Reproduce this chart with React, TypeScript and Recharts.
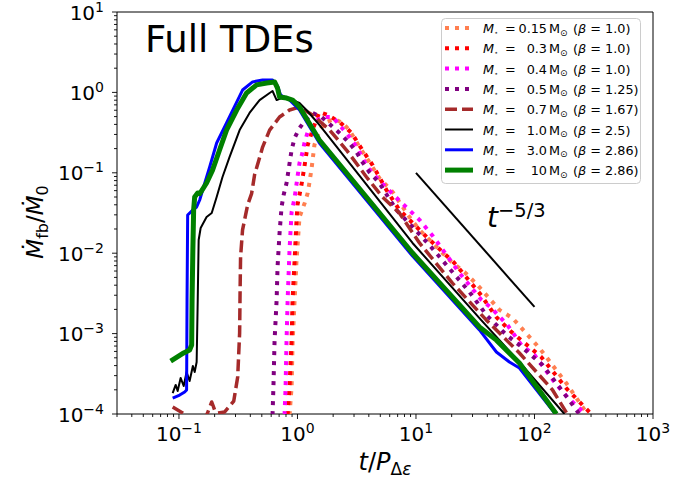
import React from "react";
import { LineChart, Line, XAxis, YAxis, ReferenceArea, Customized } from "recharts";

const FONT = "DejaVu Sans, sans-serif";

// each point: [t / P_de, Mdot_fb / Mdot_0]
const star015 = [
  [0.857, 9.7e-5], [0.892, 2.17e-4], [0.909, 7.6e-4], [0.946, 2.62e-3], [0.982, 8.2e-3], [1.04, 0.0282],
  [1.15, 0.042], [1.22, 0.0561], [1.26, 0.0746], [1.32, 0.118], [1.39, 0.222], [1.53, 0.34], [1.76, 0.429],
  [2.06, 0.467], [2.4, 0.416], [2.74, 0.34], [3.34, 0.209], [4.04, 0.136], [4.91, 0.0861], [6.34, 0.058],
  [8.81, 0.0282], [10.7, 0.0195], [13.8, 0.0134], [19.9, 7.78e-3], [25.7, 5.83e-3], [33.0, 4.02e-3],
  [50.6, 1.97e-3], [65.2, 1.56e-3], [110, 6.62e-4], [185, 2.43e-4], [279, 1e-4],
];
const star03 = [
  [0.826, 9.7e-5], [0.857, 2.17e-4], [0.892, 8.3e-4], [0.909, 2.62e-3], [0.946, 8.2e-3], [0.982, 0.0259],
  [1.0, 0.0398], [1.08, 0.0705], [1.15, 0.125], [1.22, 0.222], [1.34, 0.34], [1.53, 0.57], [1.79, 0.524],
  [2.26, 0.429], [2.86, 0.313], [3.53, 0.192], [4.3, 0.125], [5.63, 0.0611], [7.25, 0.0344], [9.35, 0.0238],
  [12.3, 0.0159], [21.1, 7.55e-3], [34.3, 3.2e-3], [47.7, 1.6e-3], [63.8, 1.05e-3], [114, 5.12e-4],
  [185, 2.1e-4], [301, 1e-4],
];
const star04 = [
  [0.778, 9.7e-5], [0.794, 2.17e-4], [0.809, 8.3e-4], [0.826, 2.62e-3], [0.857, 0.011], [0.892, 0.0325],
  [0.946, 0.0487], [1.0, 0.0887], [1.04, 0.132], [1.1, 0.176], [1.15, 0.242], [1.22, 0.321], [1.34, 0.416],
  [1.63, 0.494], [1.98, 0.494], [2.26, 0.394], [2.74, 0.279], [3.2, 0.203], [3.89, 0.118], [4.91, 0.08],
  [5.97, 0.06], [7.25, 0.045], [10.7, 0.026], [13.8, 0.0165], [23.3, 5.67e-3], [35.7, 2.62e-3],
  [43.3, 2.08e-3], [59.1, 1.28e-3], [77.5, 7.2e-4], [100, 5.42e-4], [147, 2.5e-4], [189, 1.63e-4], [269, 1e-4],
];
const star05 = [
  [0.616, 9.7e-5], [0.628, 2.43e-4], [0.641, 8.3e-4], [0.667, 2.62e-3], [0.679, 6.73e-3], [0.706, 0.0178],
  [0.734, 0.0376], [0.764, 0.053], [0.809, 0.0746], [0.892, 0.192], [0.946, 0.271], [1.04, 0.36], [1.17, 0.454],
  [1.34, 0.555], [1.6, 0.494], [2.26, 0.313], [2.74, 0.235], [3.14, 0.182], [3.53, 0.136], [4.04, 0.102],
  [4.91, 0.0746], [6.84, 0.0344], [9.35, 0.0212], [13.0, 0.0126], [20.3, 5.83e-3], [28.3, 3.29e-3],
  [39.3, 1.7e-3], [58, 9.6e-4], [74.6, 7.2e-4], [117, 4.07e-4], [162, 2.17e-4], [239, 1e-4],
];
const star07 = [
  [0.0885, 1.22e-4], [0.1074, 1.03e-4], [0.123, 8.9e-5], [0.165, 8.4e-5], [0.189, 1.41e-4], [0.2, 1.12e-4],
  [0.212, 1.03e-4], [0.243, 1.06e-4], [0.29, 1.45e-4], [0.313, 2.88e-4], [0.325, 1.02e-3], [0.328, 3.48e-3],
  [0.331, 8.97e-3], [0.344, 0.0195], [0.38, 0.04], [0.41, 0.055], [0.435, 0.095], [0.47, 0.14], [0.508, 0.209],
  [0.582, 0.34], [0.706, 0.494], [0.857, 0.604], [1.04, 0.657], [1.34, 0.524], [1.87, 0.34], [2.59, 0.192],
  [3.82, 0.0887], [5.21, 0.05], [7.25, 0.0316], [10.7, 0.0134], [20.3, 4.25e-3], [39.3, 1.47e-3],
  [74.6, 5.74e-4], [142, 1.99e-4], [189, 1e-4],
];
const star10 = [
  [0.0885, 1.82e-4], [0.0938, 2.3e-4], [0.0975, 1.93e-4], [0.1033, 2.81e-4], [0.1096, 2.23e-4], [0.116, 3.33e-4],
  [0.123, 2.57e-4], [0.131, 3.95e-4], [0.1357, 3.33e-4], [0.141, 4.43e-4], [0.144, 2.62e-3], [0.1466, 0.0146],
  [0.1524, 0.0206], [0.171, 0.0282], [0.189, 0.0316], [0.208, 0.05], [0.233, 0.0887], [0.267, 0.157],
  [0.325, 0.34], [0.394, 0.555], [0.479, 0.803], [0.582, 0.984], [0.616, 1.04], [0.667, 0.803], [0.734, 0.851],
  [0.909, 0.803], [1.04, 0.738], [1.19, 0.604], [1.34, 0.494], [1.53, 0.394], [9.35, 0.0134], [34.3, 1.56e-3],
  [74.6, 4.43e-4], [179, 1e-4],
];
const star30 = [
  [0.0885, 1.58e-4], [0.1014, 1.72e-4], [0.1117, 1.88e-4], [0.116, 1.99e-4], [0.117, 2.62e-3], [0.1184, 0.0299],
  [0.1306, 0.0344], [0.141, 0.0376], [0.1496, 0.0459], [0.1585, 0.0611], [0.1816, 0.118], [0.208, 0.235],
  [0.252, 0.416], [0.344, 1.07], [0.418, 1.35], [0.508, 1.43], [0.616, 1.43], [0.679, 1.2], [0.72, 0.929],
  [0.857, 0.803], [1.04, 0.604], [1.53, 0.235], [9.35, 9.2e-3], [34.3, 1.11e-3], [47.7, 5.9e-4],
  [61.4, 4.43e-4], [74.6, 3.73e-4], [150, 1e-4],
];
const star100 = [
  [0.0851, 4.56e-4], [0.1096, 5.74e-4], [0.123, 6.25e-4], [0.128, 7.2e-4], [0.129, 2.62e-3], [0.131, 0.011],
  [0.133, 0.0344], [0.1357, 0.05], [0.1438, 0.0561], [0.15, 0.055], [0.171, 0.0746], [0.192, 0.108],
  [0.22, 0.192], [0.252, 0.34], [0.307, 0.604], [0.372, 0.984], [0.452, 1.24], [0.549, 1.31], [0.641, 1.35],
  [0.679, 1.13], [0.706, 0.877], [0.809, 0.851], [0.909, 0.803], [1.04, 0.657], [1.53, 0.256], [9.35, 0.01005],
  [34.3, 1.21e-3], [47.7, 8.3e-4], [74.6, 4.3e-4], [153, 1e-4],
];
const slopeRef = [[10, 0.1], [100, 0.00215]];

const masses = ["0.15", "0.3", "0.4", "0.5", "0.7", "1.0", "3.0", "10"];
const betas = ["1.0", "1.0", "1.0", "1.25", "1.67", "2.5", "2.86", "2.86"];

const xMajor = [0.1, 1, 10, 100, 1000];
const yMajor = [1e-4, 1e-3, 1e-2, 1e-1, 1, 10];

const withMinors = (majors: number[], lo: number, hi: number) => {
  const out: number[] = [];
  const decades = [majors[0] / 10, ...majors];
  decades.forEach((d) => {
    for (let k = 1; k <= 9; k++) {
      const v = k * d;
      if (v >= lo * 0.999 && v <= hi * 1.001) out.push(v);
    }
  });
  return out;
};
const xTicks = withMinors(xMajor, 0.03, 1000);
const yTicks = withMinors(yMajor, 1e-4, 10);

const toPts = (arr: number[][]) => arr.map(([t, v]) => ({ t, v }));

const series = [
  { data: star015, color: "#ff7f50", width: 4, dash: "4 6" },
  { data: star03, color: "#ff0000", width: 4, dash: "4 6" },
  { data: star04, color: "#ff00ff", width: 4, dash: "4 6" },
  { data: star05, color: "#800080", width: 4, dash: "4 6" },
  { data: star07, color: "#a52a2a", width: 3.5, dash: "12 5" },
  { data: star10, color: "#000000", width: 2, dash: undefined },
  { data: star30, color: "#0000ff", width: 3, dash: undefined },
  { data: star100, color: "#008000", width: 5, dash: undefined },
];

const isMajor = (v: number) => Math.abs(Math.log10(v) - Math.round(Math.log10(v))) < 1e-6;
const expText = (v: number) => {
  const e = Math.round(Math.log10(v));
  return e < 0 ? "\u2212" + -e : String(e);
};

function XTick(props: any) {
  const { x, y, payload } = props;
  const major = isMajor(payload.value);
  return (
    <g>
      <line x1={x} x2={x} y1={y} y2={y + (major ? 5 : 3)} stroke="#000" strokeWidth={0.9} />
      {major && (
        <text x={x} y={y + 27} textAnchor="middle" fontFamily={FONT} fontSize={20} fill="#000">
          10<tspan fontSize={14} dy={-8}>{expText(payload.value)}</tspan>
        </text>
      )}
    </g>
  );
}

function YTick(props: any) {
  const { x, y, payload } = props;
  const major = isMajor(payload.value);
  return (
    <g>
      <line x1={x - (major ? 5 : 3)} x2={x} y1={y} y2={y} stroke="#000" strokeWidth={0.9} />
      {major && (
        <text x={x - 13} y={y + 7.5} textAnchor="end" fontFamily={FONT} fontSize={20} fill="#000">
          10<tspan fontSize={14} dy={-8}>{expText(payload.value)}</tspan>
        </text>
      )}
    </g>
  );
}

function Annotations() {
  return (
    <g fontFamily={FONT} fill="#000">
      <text x={145} y={52} fontSize={37}>Full TDEs</text>
      <text x={487} y={227} fontSize={28}>
        <tspan fontStyle="italic">t</tspan>
        <tspan fontSize={19.5} dy={-10}>{"\u22125/3"}</tspan>
      </text>
      <text x={385} y={470} textAnchor="middle" fontSize={24}>
        <tspan fontStyle="italic">t</tspan>/<tspan fontStyle="italic">P</tspan>
        <tspan fontSize={17} dy={5}>Δ</tspan>
        <tspan fontSize={17} fontStyle="italic">ε</tspan>
      </text>
      <text transform="translate(43,222) rotate(-90)" textAnchor="middle" fontSize={23}>
        <tspan fontStyle="italic">{"\u1E40"}</tspan>
        <tspan fontSize={16} dy={5}>fb</tspan>
        <tspan dy={-5}>/</tspan>
        <tspan fontStyle="italic">{"\u1E40"}</tspan>
        <tspan fontSize={16} dy={5}>0</tspan>
      </text>
      <rect x={441.5} y={18.5} width={199} height={165} rx={4} fill="#fff" fillOpacity={0.8} stroke="#cccccc" />
      {masses.map((m, i) => {
        const cy = 28 + i * 20.3;
        const by = cy + 5;
        const s = series[i];
        return (
          <g key={m}>
            <line x1={445} x2={473} y1={cy} y2={cy} stroke={s.color} strokeWidth={s.width} strokeDasharray={s.dash} />
            <text x={483} y={by} fontSize={12.8}>
              <tspan fontStyle="italic">M</tspan>
              <tspan fontSize={7} dy={2}>{"\u22C6"}</tspan>
            </text>
            <text x={505} y={by} fontSize={12.8}>=</text>
            <text x={547} y={by} fontSize={12.8} textAnchor="end">{m}</text>
            <text x={549} y={by} fontSize={12.8}>
              M<tspan fontSize={9} dy={2.5}>{"\u2299"}</tspan>
            </text>
            <text x={573} y={by} fontSize={12.8}>
              (<tspan fontStyle="italic">β</tspan> = {betas[i]})
            </text>
          </g>
        );
      })}
    </g>
  );
}

export default function App() {
  return (
    <div style={{ position: "absolute", left: 0, top: 0, width: 697, height: 481, background: "#fff" }}>
      <LineChart width={697} height={481} margin={{ top: 12, right: 44, bottom: 0, left: 0 }}>
        <XAxis
          dataKey="t"
          type="number"
          scale="log"
          domain={[0.03, 1000]}
          allowDataOverflow
          ticks={xTicks}
          interval={0}
          tick={(p: any) => <XTick {...p} />}
          tickLine={false}
          axisLine={false}
          tickSize={0}
          tickMargin={0}
          height={67}
        />
        <YAxis
          type="number"
          scale="log"
          domain={[1e-4, 10]}
          allowDataOverflow
          ticks={yTicks}
          interval={0}
          tick={(p: any) => <YTick {...p} />}
          tickLine={false}
          axisLine={false}
          tickSize={0}
          tickMargin={0}
          width={117}
        />
        {series.map((s, i) => (
          <Line
            key={masses[i]}
            data={toPts(s.data)}
            dataKey="v"
            type="linear"
            stroke={s.color}
            strokeWidth={s.width}
            strokeDasharray={s.dash}
            strokeLinecap="butt"
            strokeLinejoin="round"
            dot={false}
            activeDot={false}
            isAnimationActive={false}
          />
        ))}
        <Line
          data={toPts(slopeRef)}
          dataKey="v"
          type="linear"
          stroke="#000"
          strokeWidth={2}
          dot={false}
          activeDot={false}
          isAnimationActive={false}
        />
        <ReferenceArea x1={0.03} x2={1000} y1={1e-4} y2={10} fill="none" fillOpacity={0} stroke="#000" strokeWidth={1} />
        <Customized component={Annotations} />
      </LineChart>
    </div>
  );
}
